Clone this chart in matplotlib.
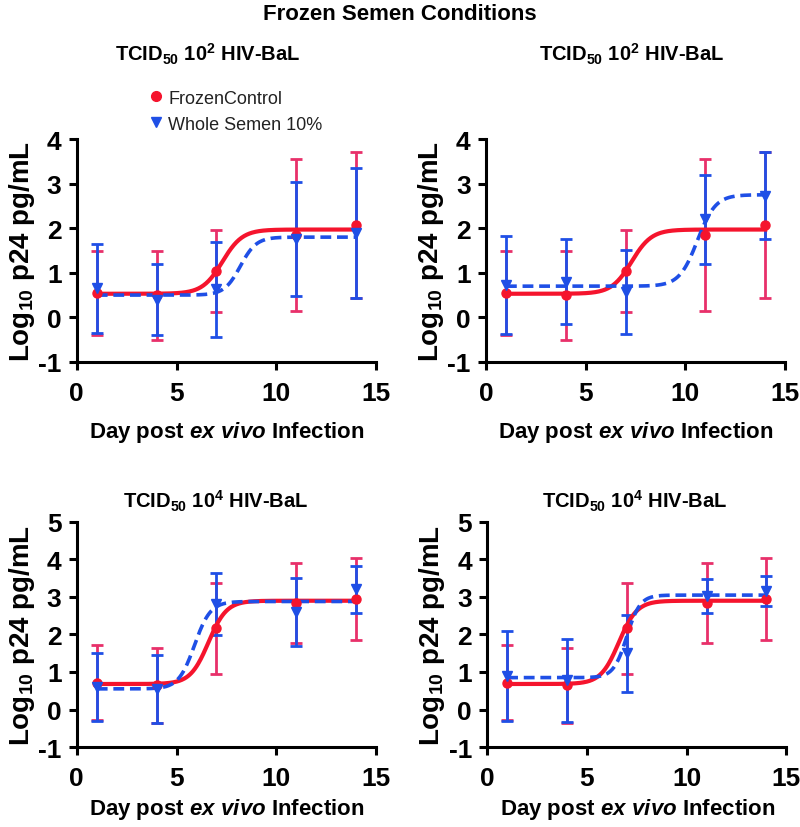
import numpy as np
import matplotlib
matplotlib.use('Agg')
from matplotlib import pyplot as plt
from matplotlib.lines import Line2D

plt.rcParams['font.family'] = ['Liberation Sans', 'DejaVu Sans']
plt.rcParams['mathtext.fontset'] = 'custom'
plt.rcParams['mathtext.rm'] = 'Liberation Sans:bold'
plt.rcParams['mathtext.bf'] = 'Liberation Sans:bold'
plt.rcParams['mathtext.it'] = 'Liberation Sans:italic:bold'
plt.rcParams['axes.unicode_minus'] = False

days = [1, 4, 7, 11, 14]

# frozen control (same in both columns of a row)
ctrl_low_mean = [0.55, 0.5, 1.03, 1.85, 2.07]
ctrl_low_err = [0.95, 1.0, 0.92, 1.7, 1.64]
ctrl_high_mean = [0.72, 0.65, 2.16, 2.83, 2.94]
ctrl_high_err = [1.0, 1.0, 1.21, 1.07, 1.1]

# whole semen 10% (four panels)
ws_tl_mean = [0.65, 0.4, 0.63, 1.75, 1.9]
ws_tl_err = [1.0, 0.8, 1.07, 1.28, 1.46]
ws_tr_mean = [0.72, 0.8, 0.57, 2.2, 2.73]
ws_tr_err = [1.1, 0.95, 0.95, 1.0, 0.98]
ws_bl_mean = [0.6, 0.55, 2.82, 2.6, 3.2]
ws_bl_err = [0.9, 0.9, 0.83, 0.9, 0.62]
ws_br_mean = [0.9, 0.78, 1.5, 3.02, 3.15]
ws_br_err = [1.2, 1.1, 1.03, 0.45, 0.4]

# sigmoid fit parameters: bottom, top, midpoint, rate
fit_ctrl_low = [0.53, 1.97, 7.3, 2.0]
fit_ctrl_high = [0.68, 2.9, 6.6, 2.2]
fit_ws_tl = [0.5, 1.8, 8.2, 2.5]
fit_ws_tr = [0.7, 2.75, 10.6, 2.2]
fit_ws_bl = [0.55, 2.88, 5.9, 2.5]
fit_ws_br = [0.85, 3.05, 7.0, 3.0]

red = '#f5142d'
red_err = '#e8306a'
blue = '#1f4fe6'


def sigmoid(x, p):
    b, t, m, k = p
    return b + (t - b) / (1 + np.exp(-k * (x - m)))


fig = plt.figure(figsize=(8, 8.28), dpi=100)

panels = [
    ([0.096, 0.5616, 0.374, 0.2693], 4, ctrl_low_mean, ctrl_low_err, fit_ctrl_low,
     ws_tl_mean, ws_tl_err, fit_ws_tl, r'TCID$_{50}$ 10$^{2}$ HIV-BaL', (0.26, 0.934), (0.284, 0.478)),
    ([0.6075, 0.5616, 0.374, 0.2693], 4, ctrl_low_mean, ctrl_low_err, fit_ctrl_low,
     ws_tr_mean, ws_tr_err, fit_ws_tr, r'TCID$_{50}$ 10$^{2}$ HIV-BaL', (0.79, 0.934), (0.795, 0.478)),
    ([0.096, 0.0966, 0.374, 0.2718], 5, ctrl_high_mean, ctrl_high_err, fit_ctrl_high,
     ws_bl_mean, ws_bl_err, fit_ws_bl, r'TCID$_{50}$ 10$^{4}$ HIV-BaL', (0.269, 0.394), (0.284, 0.022)),
    ([0.609, 0.0966, 0.374, 0.2718], 5, ctrl_high_mean, ctrl_high_err, fit_ctrl_high,
     ws_br_mean, ws_br_err, fit_ws_br, r'TCID$_{50}$ 10$^{4}$ HIV-BaL', (0.793, 0.394), (0.797, 0.022)),
]

xs = np.linspace(1, 14, 300)
for pos, ytop, cm, ce, cf, wm, we, wf, title, tpos, xlpos in panels:
    ax = fig.add_axes(pos)
    ax.errorbar(days, cm, yerr=ce, fmt='o', color=red, ecolor=red_err, ms=6.5,
                elinewidth=2, capsize=4, capthick=2)
    ax.errorbar(days, wm, yerr=we, fmt='v', color=blue, ecolor=blue, ms=6.5,
                elinewidth=2, capsize=4, capthick=2)
    ax.plot(xs, sigmoid(xs, cf), color=red, lw=3)
    ax.plot(xs, sigmoid(xs, wf), color=blue, lw=2.6, ls=(0, (3, 1.6)))
    ax.set_xlim(0, 15)
    ax.set_ylim(-1, ytop)
    ax.set_xticks([0, 5, 10, 15])
    ax.set_yticks(range(-1, ytop + 1))
    for s in ['top', 'right']:
        ax.spines[s].set_visible(False)
    for s in ['left', 'bottom']:
        ax.spines[s].set_linewidth(2.2)
    ax.tick_params(width=2.2, length=6, labelsize=19)
    ax.tick_params(axis='x', pad=8)
    ax.tick_params(axis='y', pad=5)
    for lab in ax.get_xticklabels() + ax.get_yticklabels():
        lab.set_fontweight('bold')
    ax.set_ylabel(r'Log$_{10}$ p24 pg/mL', fontsize=20, fontweight='bold', labelpad=1)
    fig.text(tpos[0], tpos[1], title, ha='center', va='center', fontsize=14.5, fontweight='bold')
    fig.text(xlpos[0], xlpos[1], r'Day post $ex\ vivo$ Infection', ha='center',
             va='center', fontsize=16, fontweight='bold')

fig.text(0.5, 0.982, 'Frozen Semen Conditions', ha='center', va='center', fontsize=16, fontweight='bold')

handles = [Line2D([], [], marker='o', color=red, ls='none', ms=7),
           Line2D([], [], marker='v', color=blue, ls='none', ms=7)]
fig.legend(handles, ['FrozenControl', 'Whole Semen 10%'], loc='upper left',
           bbox_to_anchor=(0.163, 0.91), frameon=False, fontsize=13,
           handletextpad=0.2, labelspacing=0.5, handlelength=1.0, labelcolor='#222222')

fig.savefig('out.png', dpi=100)
